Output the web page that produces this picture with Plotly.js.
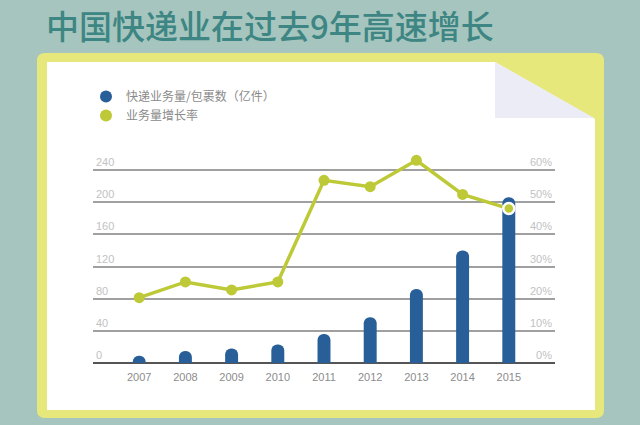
<!DOCTYPE html>
<html>
<head>
<meta charset="utf-8">
<script src="https://cdn.plot.ly/plotly-3.0.1.min.js"></script>
<style>
  html, body { margin: 0; padding: 0; background: #a6c5be; }
  #chart { width: 640px; height: 425px; }
</style>
</head>
<body>
<div id="chart"></div>
<script>
// ---- data ----
var years = ['2007', '2008', '2009', '2010', '2011', '2012', '2013', '2014', '2015'];
var parcels = [9, 15, 18, 23, 36, 57, 92, 140, 206];           // 快递业务量/包裹数（亿件）
var growth = [20.3, 25.2, 22.7, 25.2, 56.8, 54.8, 63.0, 52.4, 48.0]; // 业务量增长率 (%)
var leftTicks = [0, 40, 80, 120, 160, 200, 240];
var rightTicks = [0, 10, 20, 30, 40, 50, 60];

// ---- layout geometry (pixels) ----
var W = 640, H = 425, L = 93, R = 555, T = 140, B = 363;
var pxPerUnit = 193 / 240;               // 240 units span 193 px
var yTop = (B - T) / pxPerUnit;          // left axis top value
var y2Top = yTop / 4;                    // right axis (0-60 % ↔ 0-240)
function px(x) { return (x - L) / (R - L); }
function py(y) { return (B - y) / (B - T); }
function poly(pts) {
  return 'M' + pts.map(function (p) { return px(p[0]).toFixed(5) + ',' + py(p[1]).toFixed(5); }).join(' L') + ' Z';
}
function roundRect(x0, y0, x1, y1, r) {
  function P(x, y) { return px(x).toFixed(5) + ',' + py(y).toFixed(5); }
  return 'M' + P(x0 + r, y0) + ' L' + P(x1 - r, y0) + ' Q' + P(x1, y0) + ' ' + P(x1, y0 + r) +
    ' L' + P(x1, y1 - r) + ' Q' + P(x1, y1) + ' ' + P(x1 - r, y1) +
    ' L' + P(x0 + r, y1) + ' Q' + P(x0, y1) + ' ' + P(x0, y1 - r) +
    ' L' + P(x0, y0 + r) + ' Q' + P(x0, y0) + ' ' + P(x0 + r, y0) + ' Z';
}

var blue = '#285f99', green = '#bdc937';
var lastLine = growth.map(function (v, i) { return i === growth.length - 1 ? 2.5 : 0; });

var traces = [
  {
    type: 'bar', x: years, y: parcels, name: '快递业务量/包裹数（亿件）',
    marker: { color: blue, cornerradius: '50%' }, width: 0.28, showlegend: false,
    hoverinfo: 'x+y'
  },
  {
    type: 'scatter', mode: 'lines+markers', x: years, y: growth, yaxis: 'y2', name: '业务量增长率',
    line: { color: green, width: 3.5 },
    marker: { color: green, size: 11, line: { color: '#ffffff', width: lastLine } },
    cliponaxis: false, showlegend: false
  },
  {
    type: 'scatter', mode: 'markers', x: [null], y: [null], name: '快递业务量/包裹数（亿件）',
    marker: { color: blue, size: 12 }, legendgroup: 'a'
  },
  {
    type: 'scatter', mode: 'markers', x: [null], y: [null], name: '业务量增长率',
    marker: { color: green, size: 12 }, legendgroup: 'b'
  }
];

var layout = {
  width: W, height: H,
  margin: { l: L, r: W - R, t: T, b: H - B, pad: 0 },
  paper_bgcolor: '#a6c5be',
  plot_bgcolor: 'rgba(0,0,0,0)',
  font: { family: '"Noto Sans CJK SC", "Liberation Sans", sans-serif', color: '#888888' },
  title: {
    text: '中国快递业在过去9年高速增长',
    xref: 'container', yref: 'container',
    x: 46 / W, xanchor: 'left', y: 1 - 27 / H, yanchor: 'middle',
    font: { size: 33, color: '#3d8683', family: '"Noto Sans CJK SC", sans-serif', weight: 500 }
  },
  showlegend: true,
  legend: {
    x: px(86), xanchor: 'left', y: py(82), yanchor: 'top',
    bgcolor: 'rgba(0,0,0,0)', font: { size: 12, color: '#8a8a8a' },
    tracegroupgap: 4, itemsizing: 'trace', traceorder: 'normal'
  },
  xaxis: {
    type: 'category', range: [-1, 9], showgrid: false, zeroline: false, showline: false,
    ticks: '', ticklabelstandoff: 6,
    tickfont: { size: 11, color: '#8c8c8c', family: '"Liberation Sans", sans-serif' },
    fixedrange: true
  },
  yaxis: {
    range: [0, yTop], tickvals: leftTicks, ticktext: leftTicks.map(String),
    ticklabelposition: 'inside top', showgrid: true, gridcolor: '#a0a0a0', gridwidth: 2,
    zeroline: true, zerolinecolor: '#555555', zerolinewidth: 2, showline: false, ticks: '',
    tickfont: { size: 11, color: '#c2c2c2', family: '"Liberation Sans", sans-serif' },
    fixedrange: true
  },
  yaxis2: {
    overlaying: 'y', side: 'right', range: [0, y2Top], tickvals: rightTicks,
    ticktext: rightTicks.map(function (v) { return v + '%'; }),
    ticklabelposition: 'inside top', showgrid: false, zeroline: false, showline: false, ticks: '',
    tickfont: { size: 11, color: '#c2c2c2', family: '"Liberation Sans", sans-serif' },
    fixedrange: true
  },
  shapes: [
    { type: 'path', xref: 'paper', yref: 'paper', layer: 'below', path: roundRect(37, 53, 604, 418, 8),
      fillcolor: '#e7e87c', line: { width: 0 } },
    { type: 'path', xref: 'paper', yref: 'paper', layer: 'below',
      path: poly([[47, 62], [495, 62], [595, 119], [595, 410], [47, 410]]),
      fillcolor: '#ffffff', line: { width: 0 } },
    { type: 'path', xref: 'paper', yref: 'paper', layer: 'below',
      path: poly([[495, 62], [594, 118], [495, 118]]),
      fillcolor: '#ececf6', line: { width: 0 } }
  ]
};

Plotly.newPlot('chart', traces, layout, { displayModeBar: false, staticPlot: true });
</script>
</body>
</html>
